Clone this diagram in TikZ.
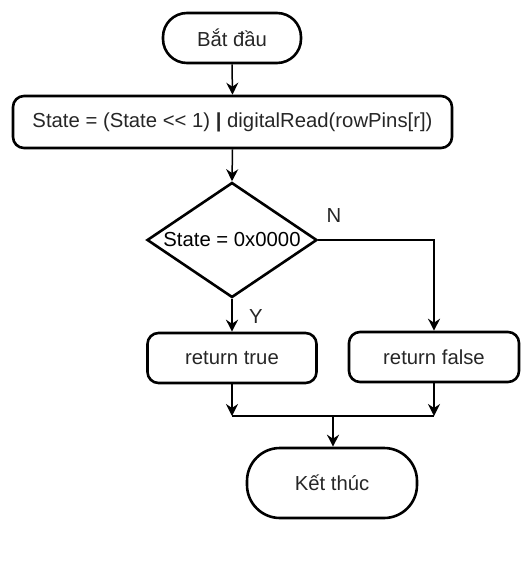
\documentclass[tikz,border=0pt]{standalone}
\usepackage{fontspec}
\setmainfont{Liberation Sans}
\usetikzlibrary{shapes.geometric,arrows.meta,calc}
\begin{document}
\begin{tikzpicture}[x=1pt,y=-1pt,
  font=\fontsize{20.3}{24}\selectfont,
  shapeline/.style={draw=black,line width=2.6pt,text=black!85},
  term/.style={shapeline,rounded corners=24pt,inner sep=0pt},
  procbox/.style={shapeline,rounded corners=11pt,inner sep=0pt},
  decbox/.style={shapeline,diamond,inner sep=0pt,minimum width=170pt,minimum height=115pt},
  conn/.style={draw=black,line width=1.5pt,-{Stealth[length=12pt,width=12pt,inset=4pt]}},
  plain/.style={draw=black,line width=1.5pt},
  lbl/.style={text=black!85,inner sep=0pt}]
\useasboundingbox (0,0) rectangle (520,570);
\node[term,minimum width=138pt,minimum height=50pt] (start) at (232,38) {Bắt đầu};
\node[procbox,minimum width=439pt,minimum height=52pt] (proc) at (232.5,122) {State = (State {<}{<} 1) \textbf{|} digitalRead(rowPins[r])};
\node[decbox,label={center:State = 0x0000}] (dec) at (232,240) {};
\node[procbox,minimum width=169pt,minimum height=50pt] (rt) at (232,358) {return true};
\node[procbox,minimum width=170pt,minimum height=50pt] (rf) at (434,357) {return false};
\node[term,minimum width=170pt,minimum height=70pt,rounded corners=33pt] (end) at (332,483) {Kết thúc};
\node[lbl] (ylab) at (256,317) {Y};
\node[lbl] (nlab) at (334,216) {N};
\coordinate (jl) at (232,416);
\coordinate (jr) at (434,416);
\coordinate (jm) at (333,416);
\draw[conn] (start.south) -- (proc.north);
\draw[conn] (proc.south) -- (dec.north);
\draw[conn] (dec.south) -- (rt.north);
\draw[conn] (dec.east) -| (rf.north);
\draw[conn] (rt.south) -- (jl);
\draw[conn] (rf.south) -- (jr);
\draw[plain] (jl) -- (jr);
\draw[conn] (jm) -- (jm |- end.north);
\end{tikzpicture}
\end{document}
